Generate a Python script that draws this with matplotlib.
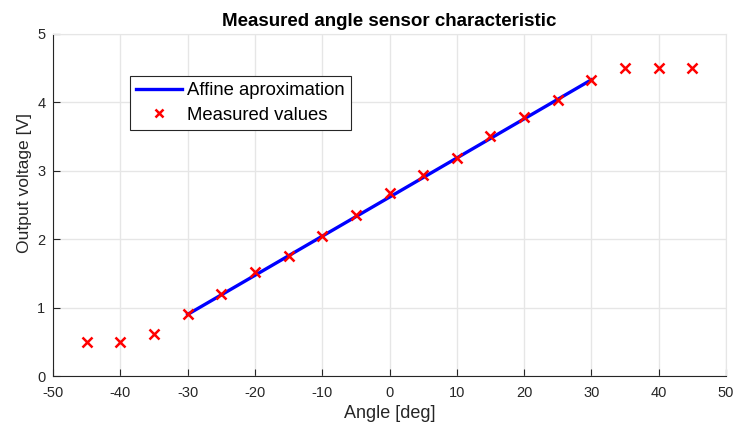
import matplotlib
matplotlib.use("Agg")
from matplotlib import pyplot as plt

# Measured sensor points
angle_deg = [-45, -40, -35, -30, -25, -20, -15, -10, -5, 0,
             5, 10, 15, 20, 25, 30, 35, 40, 45]
voltage_v = [0.50, 0.50, 0.61, 0.90, 1.20, 1.52, 1.75, 2.05, 2.35, 2.67,
             2.94, 3.18, 3.51, 3.78, 4.04, 4.33, 4.50, 4.50, 4.50]

# Affine approximation endpoints
fit_angle = [-30, 30]
fit_voltage = [0.90, 4.33]

GRID = "#e6e6e6"
TXT = "#262626"

plt.rcParams["font.family"] = ["Liberation Sans", "DejaVu Sans"]
plt.rcParams["axes.unicode_minus"] = False

fig = plt.figure(figsize=(7.37, 4.33), dpi=100)
ax = fig.add_axes([0.072, 0.1316, 0.913, 0.79])

ax.plot(fit_angle, fit_voltage, color=(0, 0, 1), lw=2.4,
        label="Affine aproximation", zorder=3)
ax.plot(angle_deg, voltage_v, ls="none", marker="x", color="red",
        ms=7, mew=1.8, label="Measured values", zorder=4)

ax.set_xlim(-50, 50)
ax.set_ylim(0, 5)
ax.set_xticks(range(-50, 51, 10))
ax.set_yticks(range(0, 6))
ax.grid(True, color=GRID, lw=1)
ax.set_axisbelow(True)

for s in ("top", "right"):
    ax.spines[s].set_color(GRID)
for s in ("left", "bottom"):
    ax.spines[s].set_color(TXT)
    ax.spines[s].set_linewidth(0.8)
ax.tick_params(direction="in", length=5, width=0.8, colors=TXT,
               labelsize=10.5, top=False, right=False)
ax.tick_params(axis="x", pad=7.5)
ax.tick_params(axis="y", pad=5.5)

ax.set_xlabel("Angle [deg]", fontsize=13, color=TXT, labelpad=3)
ax.set_ylabel("Output voltage [V]", fontsize=12.6, color=TXT)
ax.yaxis.set_label_coords(-0.031, 0.564)
ax.set_title("Measured angle sensor characteristic", fontsize=13.5,
             fontweight="bold", pad=6)

leg = ax.legend(loc="upper left", bbox_to_anchor=(0.114, 0.878),
                borderaxespad=0, fontsize=13.3, fancybox=False,
                edgecolor=TXT, framealpha=1, handlelength=2.5,
                handletextpad=0.25, borderpad=0.35, labelspacing=0.42)
leg.get_frame().set_linewidth(0.8)
leg.legend_handles[1].set_markersize(5.5)

fig.savefig("out.png", dpi=100)
